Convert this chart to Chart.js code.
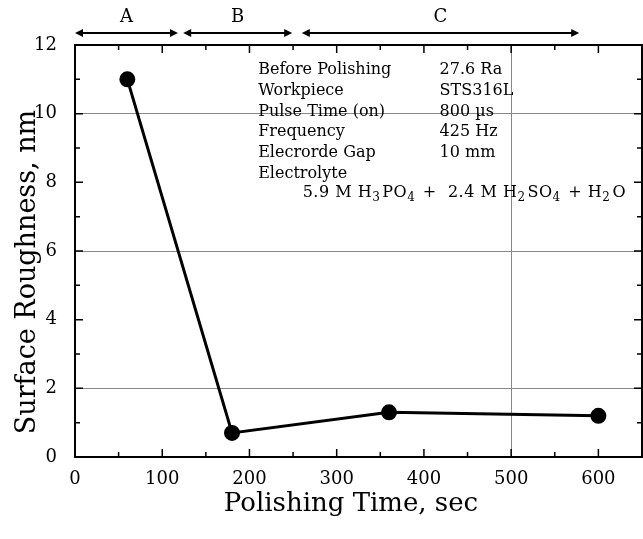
<!DOCTYPE html>
<html>
<head>
<meta charset="utf-8">
<script src="https://cdn.jsdelivr.net/npm/chart.js@4"></script>
<style>
  html, body { margin: 0; padding: 0; background: #fff; }
  #wrap { width: 643px; height: 539px; }
</style>
</head>
<body>
<div id="wrap"><canvas id="roughnessGraph"></canvas></div>
<script>
// data
const polishTimes = [60, 180, 360, 600];
const roughness = [11.0, 0.7, 1.3, 1.2];

// process stages shown with arrows above the plot (in seconds)
const stageLabels = ['A', 'B', 'C'];
const stageStart = [0, 124, 260];
const stageEnd = [118, 249, 578];

// condition table
const infoNames = ['Before Polishing', 'Workpiece', 'Pulse Time (on)', 'Frequency', 'Elecrorde Gap', 'Electrolyte'];
const infoValues = ['27.6 Ra', 'STS316L', '800 \u00b5s', '425 Hz', '10 mm', ''];

const serif = "'DejaVu Serif', 'Liberation Serif', serif";
const gridX = [500];
const gridY = [2, 6, 10];

function drawArrow(ctx, x1, x2, y) {
    ctx.beginPath();
    ctx.moveTo(x1 + 4, y);
    ctx.lineTo(x2 - 4, y);
    ctx.stroke();
    [[x1, 1], [x2, -1]].forEach(([x, d]) => {
        ctx.beginPath();
        ctx.moveTo(x, y);
        ctx.lineTo(x + d * 8, y - 4);
        ctx.lineTo(x + d * 8, y + 4);
        ctx.closePath();
        ctx.fill();
    });
}

const decorations = {
    id: 'decorations',
    beforeDatasetsDraw(chart) {
        const { ctx, chartArea: a, scales: { x, y } } = chart;
        ctx.save();
        ctx.strokeStyle = '#000';
        ctx.lineWidth = 1.5;
        // inward ticks on all four sides
        x.ticks.forEach(t => {
            const px = x.getPixelForValue(t.value);
            const len = t.value % 100 === 0 ? 8 : 5;
            ctx.beginPath();
            ctx.moveTo(px, a.bottom); ctx.lineTo(px, a.bottom - len);
            ctx.moveTo(px, a.top); ctx.lineTo(px, a.top + len);
            ctx.stroke();
        });
        y.ticks.forEach(t => {
            const py = y.getPixelForValue(t.value);
            const len = t.value % 2 === 0 ? 8 : 5;
            ctx.beginPath();
            ctx.moveTo(a.left, py); ctx.lineTo(a.left + len, py);
            ctx.moveTo(a.right, py); ctx.lineTo(a.right - len, py);
            ctx.stroke();
        });
        // frame
        ctx.lineWidth = 2;
        ctx.strokeRect(a.left, a.top, a.right - a.left, a.bottom - a.top);
        ctx.restore();
    },
    afterDraw(chart) {
        const { ctx, chartArea: a, scales: { x, y } } = chart;
        ctx.save();
        ctx.fillStyle = '#000';
        ctx.strokeStyle = '#000';
        ctx.lineWidth = 2;

        // stage arrows
        ctx.font = '18px ' + serif;
        ctx.textAlign = 'center';
        ctx.textBaseline = 'middle';
        stageLabels.forEach((lab, i) => {
            const x1 = x.getPixelForValue(stageStart[i]);
            const x2 = x.getPixelForValue(stageEnd[i]);
            drawArrow(ctx, x1, x2, 33);
            ctx.fillText(lab, (x1 + x2) / 2, 17);
        });

        // axis titles
        ctx.font = '26px ' + serif;
        ctx.fillText('Polishing Time, sec', 351, 504);
        ctx.save();
        ctx.translate(28, 272);
        ctx.rotate(-Math.PI / 2);
        ctx.font = '27px ' + serif;
        ctx.fillText('Surface Roughness, nm', 0, 0);
        ctx.restore();

        // condition table
        ctx.font = '16px ' + serif;
        ctx.textAlign = 'left';
        const col1 = x.getPixelForValue(210);
        const col2 = x.getPixelForValue(418);
        infoNames.forEach((n, i) => {
            const py = 70 + i * 20.7;
            ctx.fillText(n, col1, py);
            if (infoValues[i]) ctx.fillText(infoValues[i], col2, py);
        });
        // electrolyte formula with subscripts
        const parts = [['5.9 M H', 0], ['3', 1], ['PO', 0], ['4', 1], [' +  2.4 M H', 0], ['2', 1],
                       ['SO', 0], ['4', 1], [' + H', 0], ['2', 1], ['O', 0]];
        let px = x.getPixelForValue(261);
        const py = 193;
        ctx.letterSpacing = '0.5px';
        parts.forEach(([s, sub]) => {
            ctx.font = (sub ? '12px ' : '16px ') + serif;
            ctx.fillText(s, px, sub ? py + 5 : py);
            px += ctx.measureText(s).width + (sub ? 2 : 0);
        });
        ctx.restore();
    }
};

const roughnessGraph = document.getElementById('roughnessGraph');

new Chart(roughnessGraph, {
    type: 'scatter',
    data: {
        datasets: [
            {
                data: polishTimes.map((t, i) => ({ x: t, y: roughness[i] })),
                showLine: true,
                borderColor: '#000',
                backgroundColor: '#000',
                borderWidth: 3,
                pointRadius: 6.5,
                pointHoverRadius: 6.5
            }
        ]
    },
    options: {
        responsive: true,
        maintainAspectRatio: false,
        animation: false,
        layout: { autoPadding: false, padding: { top: 45, right: 1, left: 0, bottom: 0 } },
        plugins: {
            legend: { display: false },
            tooltip: { enabled: false }
        },
        scales: {
            x: {
                type: 'linear',
                min: 0,
                max: 650,
                afterFit: s => { s.height = 82; s.paddingRight = 0; s.paddingLeft = 0; },
                ticks: {
                    stepSize: 50,
                    padding: 12,
                    color: '#000',
                    font: { family: serif, size: 18 },
                    maxRotation: 0,
                    autoSkip: false,
                    callback: v => (v % 100 === 0 ? v : '')
                },
                grid: {
                    drawTicks: false,
                    color: c => (c.tick && gridX.includes(c.tick.value) ? '#888' : 'rgba(0,0,0,0)')
                },
                border: { color: '#000', width: 2 }
            },
            y: {
                min: 0,
                max: 12,
                afterFit: s => { s.width = 75; s.paddingTop = 0; s.paddingBottom = 0; },
                ticks: {
                    stepSize: 1,
                    padding: 18,
                    color: '#000',
                    font: { family: serif, size: 18 },
                    autoSkip: false,
                    callback: v => (v % 2 === 0 ? v : '')
                },
                grid: {
                    drawTicks: false,
                    color: c => (c.tick && gridY.includes(c.tick.value) ? '#888' : 'rgba(0,0,0,0)')
                },
                border: { color: '#000', width: 2 }
            }
        }
    },
    plugins: [decorations]
});
</script>
</body>
</html>
